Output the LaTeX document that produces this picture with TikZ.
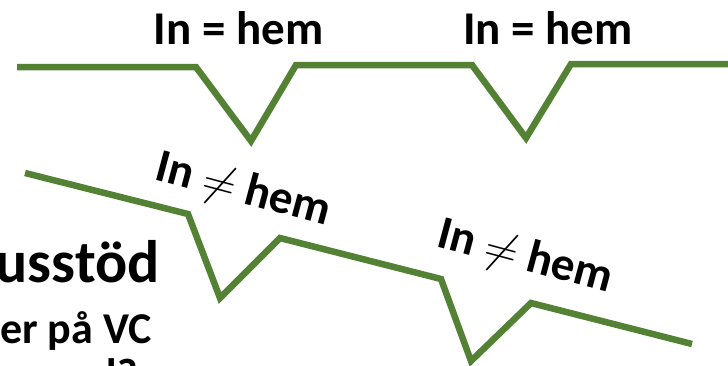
\documentclass[tikz,border=0pt]{standalone}
\usepackage{fontspec}
\setmainfont{Carlito}
\definecolor{lgreen}{HTML}{548235}
\newcommand{\bigneq}{\scalebox{2.2}{\fontsize{20}{24}\selectfont$\neq$}}
\begin{document}
\begin{tikzpicture}[x=1pt,y=-1pt,
  wave/.style={draw=lgreen,line width=6.5pt,line join=miter,line cap=butt},
  lbl/.style={font=\bfseries\fontsize{47}{52}\selectfont,inner sep=0pt},
  bg/.style={font=\bfseries\fontsize{44}{50}\selectfont,inner sep=0pt,anchor=base east}]
\useasboundingbox (0,0) rectangle (728,365);
% background slide text fragments
\node[bg,font=\bfseries\fontsize{60}{66}\selectfont] (t1) at (160,282) {usstöd};
\node[bg] (t2) at (152,343) {er på VC};
\node[bg] (t3) at (138,389) {d?};
% top line
\coordinate (a0) at (17,67);
\coordinate (a1) at (196,67);
\coordinate (a2) at (251,141);
\coordinate (a3) at (296,65);
\coordinate (a4) at (472,65);
\coordinate (a5) at (526,138);
\coordinate (a6) at (571,64);
\coordinate (a7) at (728,64);
\draw[wave] (a0) -- (a1) -- (a2) -- (a3) -- (a4) -- (a5) -- (a6) -- (a7);
% lower line
\coordinate (b0) at (25,173);
\coordinate (b1) at (188,214);
\coordinate (b2) at (220,298);
\coordinate (b3) at (280,238);
\coordinate (b4) at (441,279);
\coordinate (b5) at (471,361);
\coordinate (b6) at (531,303);
\coordinate (b7) at (692,344);
\draw[wave] (b0) -- (b1) -- (b2) -- (b3) -- (b4) -- (b5) -- (b6) -- (b7);
% labels
\node[lbl] (l1) at (238.5,28) {In = hem};
\node[lbl] (l2) at (548,28) {In = hem};
\node[lbl,rotate=-15] (l3) at (243,191) {In \bigneq{} hem};
\node[lbl,rotate=-15] (l4) at (525,258) {In \bigneq{} hem};
\end{tikzpicture}
\end{document}
